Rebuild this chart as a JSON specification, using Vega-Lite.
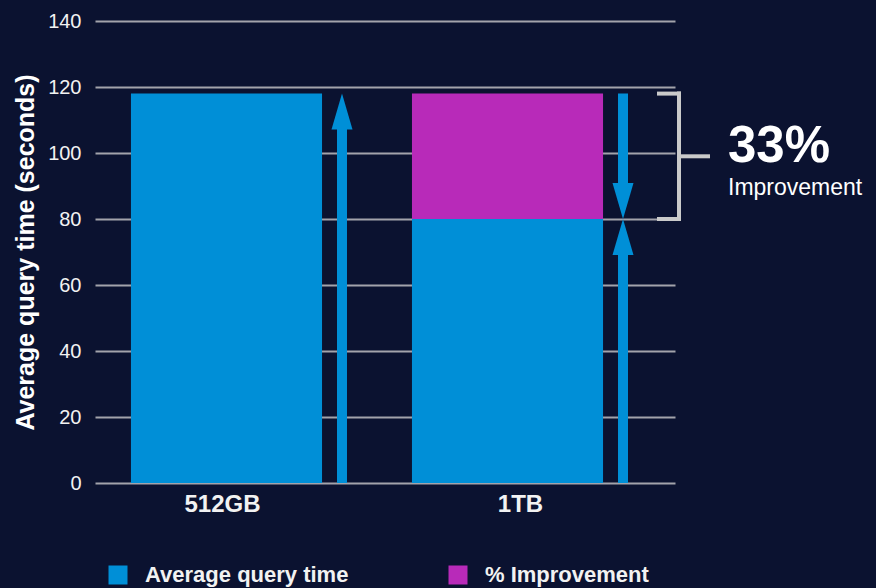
{
  "$schema": "https://vega.github.io/schema/vega-lite/v6.json",
  "width": 580,
  "height": 462,
  "autosize": {"type": "none"},
  "padding": {"left": 95, "top": 21, "right": 201, "bottom": 105},
  "background": "#0b1230",
  "config": {"view": {"stroke": null}, "font": "Liberation Sans"},
  "datasets": {
    "bars": [
      {"size": "512GB", "component": "Average query time", "value": 118, "rank": 1},
      {"size": "1TB", "component": "Average query time", "value": 80, "rank": 1},
      {"size": "1TB", "component": "% Improvement", "value": 38, "rank": 2}
    ],
    "arrows": [
      {"size": "512GB", "from": 0, "to": 118, "dir": "up"},
      {"size": "1TB", "from": 118, "to": 80, "dir": "down"},
      {"size": "1TB", "from": 0, "to": 80, "dir": "up"}
    ],
    "bracket": [
      {"size": "1TB", "lo": 80, "hi": 118, "mid": 99, "pct": "33%", "note": "Improvement"}
    ]
  },
  "layer": [
    {
      "data": {"name": "bars"},
      "mark": {"type": "bar", "width": {"band": 0.68}, "xOffset": -18},
      "encoding": {
        "x": {
          "field": "size",
          "type": "nominal",
          "scale": {"type": "band", "domain": ["512GB", "1TB"], "paddingInner": 0, "paddingOuter": 0.032},
          "axis": {
            "title": null,
            "labelAngle": 0,
            "labelFontSize": 24,
            "labelFontWeight": "bold",
            "labelColor": "#f2f2f2",
            "labelPadding": 9,
            "domain": false,
            "ticks": false,
            "labelOffset": {"condition": {"test": "datum.value === '512GB'", "value": -22}, "value": -5}
          }
        },
        "y": {
          "field": "value",
          "type": "quantitative",
          "stack": "zero",
          "scale": {"domain": [0, 140], "nice": false},
          "axis": {
            "values": [0, 20, 40, 60, 80, 100, 120, 140],
            "title": "Average query time (seconds)",
            "titleFontSize": 25,
            "titleFontWeight": "bold",
            "titleColor": "#ffffff",
            "titlePadding": 9,
            "labelFontSize": 20,
            "labelColor": "#f2f2f2",
            "labelPadding": 14,
            "domain": false,
            "ticks": false,
            "grid": true,
            "gridColor": "#a3a3ab",
            "gridWidth": 2
          }
        },
        "order": {"field": "rank"},
        "color": {
          "field": "component",
          "type": "nominal",
          "scale": {"domain": ["Average query time", "% Improvement"], "range": ["#008fd7", "#b82ab9"]},
          "legend": {
            "orient": "none",
            "legendX": 12,
            "legendY": 543,
            "direction": "horizontal",
            "title": null,
            "symbolType": "square",
            "symbolSize": 361,
            "symbolStrokeWidth": 0,
            "symbolOpacity": 1,
            "labelFontSize": 22,
            "labelFontWeight": "bold",
            "labelColor": "#f2f2f2",
            "labelOffset": 16,
            "columnPadding": 98,
            "labelLimit": 400
          }
        }
      }
    },
    {
      "data": {"name": "arrows"},
      "transform": [{"filter": "datum.dir === 'up'"}],
      "mark": {"type": "rule", "color": "#008fd7", "strokeWidth": 10, "xOffset": 97.5, "y2Offset": 30},
      "encoding": {
        "x": {"field": "size", "type": "nominal"},
        "y": {"field": "from", "type": "quantitative"},
        "y2": {"field": "to"}
      }
    },
    {
      "data": {"name": "arrows"},
      "transform": [{"filter": "datum.dir === 'down'"}],
      "mark": {"type": "rule", "color": "#008fd7", "strokeWidth": 10, "xOffset": 97.5, "y2Offset": -30},
      "encoding": {
        "x": {"field": "size", "type": "nominal"},
        "y": {"field": "from", "type": "quantitative"},
        "y2": {"field": "to"}
      }
    },
    {
      "data": {"name": "arrows"},
      "mark": {"type": "point", "filled": true, "opacity": 1, "strokeWidth": 0, "color": "#008fd7", "size": 441, "xOffset": 97.5},
      "encoding": {
        "x": {"field": "size", "type": "nominal"},
        "y": {"field": "to", "type": "quantitative"},
        "shape": {
          "field": "dir",
          "type": "nominal",
          "scale": {"domain": ["up", "down"], "range": ["M0,0L1,3.43L-1,3.43Z", "M0,0L1,-3.43L-1,-3.43Z"]},
          "legend": null
        }
      }
    },
    {
      "data": {"name": "bracket"},
      "mark": {"type": "rule", "color": "#cacaca", "strokeWidth": 4, "xOffset": 153.5, "strokeCap": "square"},
      "encoding": {
        "x": {"field": "size", "type": "nominal"},
        "y": {"field": "lo", "type": "quantitative"},
        "y2": {"field": "hi"}
      }
    },
    {
      "data": {"name": "bracket"},
      "mark": {"type": "tick", "orient": "horizontal", "color": "#cacaca", "opacity": 1, "thickness": 4, "size": 24, "xOffset": 143.5},
      "encoding": {
        "x": {"field": "size", "type": "nominal"},
        "y": {"field": "hi", "type": "quantitative"}
      }
    },
    {
      "data": {"name": "bracket"},
      "mark": {"type": "tick", "orient": "horizontal", "color": "#cacaca", "opacity": 1, "thickness": 4, "size": 24, "xOffset": 143.5},
      "encoding": {
        "x": {"field": "size", "type": "nominal"},
        "y": {"field": "lo", "type": "quantitative"}
      }
    },
    {
      "data": {"name": "bracket"},
      "mark": {"type": "tick", "orient": "horizontal", "color": "#cacaca", "opacity": 1, "thickness": 4, "size": 31, "xOffset": 169},
      "encoding": {
        "x": {"field": "size", "type": "nominal"},
        "y": {"field": "mid", "type": "quantitative"}
      }
    },
    {
      "data": {"name": "bracket"},
      "mark": {"type": "text", "align": "left", "baseline": "alphabetic", "fontSize": 51, "fontWeight": "bold", "color": "#ffffff", "dx": 202.5, "dy": 6},
      "encoding": {
        "x": {"field": "size", "type": "nominal"},
        "y": {"field": "mid", "type": "quantitative"},
        "text": {"field": "pct"}
      }
    },
    {
      "data": {"name": "bracket"},
      "mark": {"type": "text", "align": "left", "baseline": "alphabetic", "fontSize": 23, "color": "#ffffff", "dx": 202.5, "dy": 39},
      "encoding": {
        "x": {"field": "size", "type": "nominal"},
        "y": {"field": "mid", "type": "quantitative"},
        "text": {"field": "note"}
      }
    }
  ]
}
